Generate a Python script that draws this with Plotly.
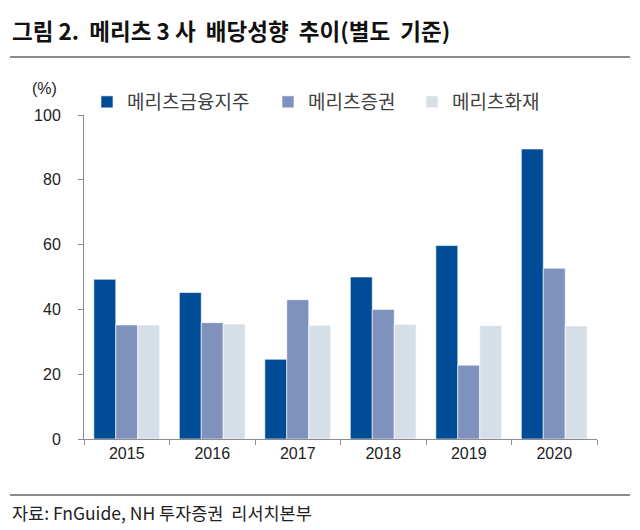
import plotly.graph_objects as go

years = ["2015", "2016", "2017", "2018", "2019", "2020"]
series_names = ["메리츠금융지주", "메리츠증권", "메리츠화재"]
holding = [49.3, 45.2, 24.6, 50.0, 59.7, 89.5]
securities = [35.2, 35.9, 43.0, 40.0, 22.8, 52.7]
insurance = [35.2, 35.5, 35.1, 35.4, 35.0, 34.9]
colors = ["#004C97", "#7F92BD", "#D6DFE8"]
y_ticks = [0, 20, 40, 60, 80, 100]

title_text = "그림 2.  메리츠 3 사  배당성향  추이(별도  기준)"
source_text = "자료: FnGuide, NH 투자증권  리서치본부"

NUM_FONT = "Liberation Sans Narrow, Liberation Sans, Arial, sans-serif"
KR_FONT = "Noto Sans CJK KR, sans-serif"

# target plot area in screenshot pixels (x 84..597, y 115..439); page body has an 8px margin
OFF = 8
L, R, T, B = 84, 597, 115, 439
def px(x):
    return (x - L) / (R - L)
def py(y):
    return (B - y) / (B - T)

legend_ids = ["legend", "legend2", "legend3"]
legend_left = [87, 268, 412]

fig = go.Figure()
for name, vals, col, lid in zip(series_names, [holding, securities, insurance], colors, legend_ids):
    fig.add_trace(go.Bar(x=years, y=vals, name=name, legend=lid,
                         marker=dict(color=col, line=dict(color="white", width=0.6))))

legend_common = dict(orientation="h", y=py(102), xanchor="left", yanchor="middle",
                     font=dict(family=KR_FONT, size=19, color="#404040"),
                     itemwidth=30, bgcolor="rgba(0,0,0,0)")

rule_line = dict(text=" ", xref="paper", yref="paper", x=px(10), xanchor="left",
                 yanchor="middle", showarrow=False, width=620, height=2,
                 bgcolor="#8C8C8C", borderwidth=0, borderpad=0,
                 font=dict(size=1, color="#8C8C8C"))

fig.update_layout(
    width=640, height=530,
    margin=dict(l=L - OFF, r=640 - (R - OFF), t=T - OFF, b=530 - (B - OFF), autoexpand=False),
    paper_bgcolor="white", plot_bgcolor="white",
    barmode="group", bargap=0.23, bargroupgap=0,
    showlegend=True,
    legend=dict(x=px(legend_left[0]), **legend_common),
    legend2=dict(x=px(legend_left[1]), **legend_common),
    legend3=dict(x=px(legend_left[2]), **legend_common),
    font=dict(family=NUM_FONT, color="#222222"),
    xaxis=dict(showline=True, linecolor="#8C8C8C", linewidth=1, automargin=False,
               ticks="outside", tickson="boundaries", ticklen=5, tickcolor="#8C8C8C",
               tickfont=dict(family=NUM_FONT, size=16, color="#222222"),
               showgrid=False, fixedrange=True),
    yaxis=dict(range=[0, 100], tickvals=y_ticks, showline=True, linecolor="#8C8C8C", linewidth=1,
               automargin=False,
               ticks="outside", ticklen=5, tickcolor="#8C8C8C",
               tickfont=dict(family=NUM_FONT, size=16, color="#222222"),
               ticklabelstandoff=14,
               showgrid=False, zeroline=False, fixedrange=True),
    shapes=[
        dict(type="line", xref="paper", yref="paper",
             x0=px(10), x1=px(630), y0=py(57), y1=py(57),
             line=dict(color="#8C8C8C", width=2)),
        dict(type="line", xref="paper", yref="paper",
             x0=px(10), x1=px(630), y0=py(495), y1=py(495),
             line=dict(color="#8C8C8C", width=2)),
    ],
    annotations=[
        dict(rule_line, y=py(57)),
        dict(text="<b>" + title_text + "</b>", xref="paper", yref="paper", x=px(10), y=py(30),
             xanchor="left", yanchor="middle", showarrow=False,
             font=dict(family=KR_FONT, size=22.5, color="#111111")),
        dict(text="(%)", xref="paper", yref="paper", x=px(44), y=py(88),
             xanchor="center", yanchor="middle", showarrow=False,
             font=dict(family=NUM_FONT, size=16, color="#222222")),
        dict(text=source_text, xref="paper", yref="paper", x=px(10), y=py(513),
             xanchor="left", yanchor="middle", showarrow=False,
             font=dict(family=KR_FONT, size=17.5, color="#222222")),
    ],
)

fig.write_html("out.html", config={"displayModeBar": False})
